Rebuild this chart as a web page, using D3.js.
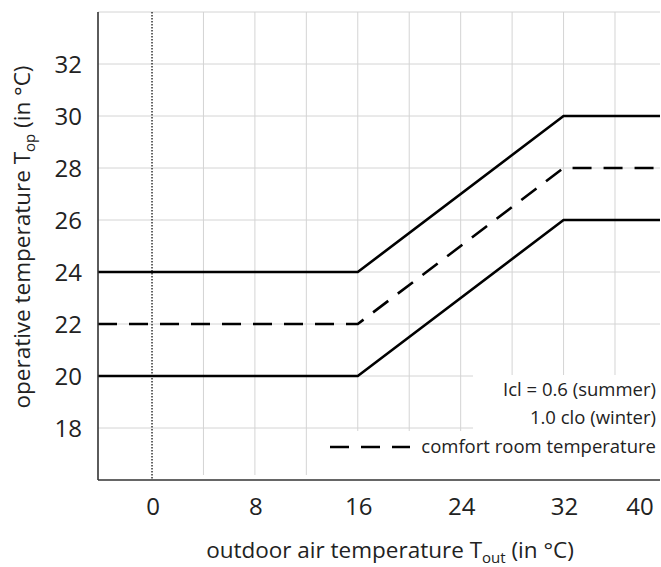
<!DOCTYPE html>
<html>
<head>
<meta charset="utf-8">
<script src="https://cdn.jsdelivr.net/npm/d3@7"></script>
<style>
  body { margin: 0; background: #fff; }
  text { font-family: "Open Sans", sans-serif; fill: #222; }
</style>
</head>
<body>
<svg id="chart" width="661" height="567"></svg>
<script>
// outdoor temperature breakpoints and operative temperature bands
var tOut = [-4.2, 16, 32, 40];
var upper = [24, 24, 30, 30];
var comfort = [22, 22, 28, 28];
var lower = [20, 20, 26, 26];

var xTicks = [0, 8, 16, 24, 32, 40];
var yTicks = [18, 20, 22, 24, 26, 28, 30, 32];
var xGrid = [4, 8, 12, 16, 20, 24, 28, 32, 36];
var yGrid = [18, 20, 22, 24, 26, 28, 30, 32, 34];

var margin = {top: 12, left: 98, right: 1, bottom: 87};
var W = 661, H = 567;

var svg = d3.select("#chart");

var x = d3.scaleLinear().domain([-4.2, 39.5]).range([margin.left, W - margin.right]);
var y = d3.scaleLinear().domain([16, 34]).range([H - margin.bottom, margin.top]);

svg.append("clipPath").attr("id", "clip")
  .append("rect")
    .attr("x", x.range()[0]).attr("y", 0)
    .attr("width", x.range()[1] - x.range()[0]).attr("height", y.range()[0]);

// grid
svg.append("g")
  .selectAll("line")
  .data(xGrid)
  .join("line")
    .attr("x1", d => x(d)).attr("x2", d => x(d))
    .attr("y1", y(34)).attr("y2", y(16) - 5)
    .attr("stroke", "#d4d4d4").attr("stroke-width", 1);

svg.append("g")
  .selectAll("line")
  .data(yGrid)
  .join("line")
    .attr("x1", x.range()[0]).attr("x2", x.range()[1])
    .attr("y1", d => y(d)).attr("y2", d => y(d))
    .attr("stroke", "#d4d4d4").attr("stroke-width", 1);

// dotted zero line
svg.append("line")
  .attr("x1", x(0)).attr("x2", x(0))
  .attr("y1", y(34)).attr("y2", y(16))
  .attr("stroke", "#000").attr("stroke-width", 1.2)
  .attr("stroke-dasharray", "1.5,1.5");

// white legend backgrounds covering grid
svg.append("rect").attr("x", 473).attr("y", 375).attr("width", 188).attr("height", 56).attr("fill", "#fff");
svg.append("rect").attr("x", 318).attr("y", 431).attr("width", 343).attr("height", 45).attr("fill", "#fff");

// band lines
var line = d3.line()
  .x((d, i) => x(tOut[i]))
  .y(d => y(d));

var g = svg.append("g").attr("clip-path", "url(#clip)");
[upper, lower].forEach(s => {
  g.append("path")
    .datum(s)
    .attr("d", line)
    .attr("fill", "none")
    .attr("stroke", "#000")
    .attr("stroke-width", 2.6);
});
g.append("path")
  .datum(comfort)
  .attr("d", line)
  .attr("fill", "none")
  .attr("stroke", "#000")
  .attr("stroke-width", 2.6)
  .attr("stroke-dasharray", "19,12");

// axes
svg.append("line")
  .attr("x1", x.range()[0]).attr("x2", x.range()[0])
  .attr("y1", y(34)).attr("y2", y(16))
  .attr("stroke", "#333").attr("stroke-width", 1.6);
svg.append("line")
  .attr("x1", x.range()[0]).attr("x2", x.range()[1])
  .attr("y1", y(16)).attr("y2", y(16))
  .attr("stroke", "#333").attr("stroke-width", 1.6);

svg.append("g")
  .selectAll("text")
  .data(yTicks)
  .join("text")
    .attr("x", 82)
    .attr("y", d => y(d))
    .attr("dy", "0.36em")
    .attr("text-anchor", "end")
    .style("font-size", "24px")
    .text(d => d);

svg.append("g")
  .selectAll("text")
  .data(xTicks)
  .join("text")
    .attr("x", d => Math.min(x(d) + 1, x.range()[1] - 20))
    .attr("y", 515)
    .attr("text-anchor", "middle")
    .style("font-size", "24px")
    .text(d => d);

// axis titles
var xt = svg.append("text")
  .attr("x", 390).attr("y", 558)
  .attr("text-anchor", "middle")
  .style("font-size", "22.5px");
xt.append("tspan").text("outdoor air temperature T");
xt.append("tspan").attr("dy", 5).style("font-size", "15px").text("out");
xt.append("tspan").attr("dy", -5).text(" (in °C)");

var yt = svg.append("text")
  .attr("transform", "translate(30,237) rotate(-90)")
  .attr("text-anchor", "middle")
  .style("font-size", "22.5px");
yt.append("tspan").text("operative temperature T");
yt.append("tspan").attr("dy", 5).style("font-size", "15px").text("op");
yt.append("tspan").attr("dy", -5).text(" (in °C)");

// legend
svg.append("text").attr("x", 656).attr("y", 396).attr("text-anchor", "end")
  .style("font-size", "18.5px").text("Icl = 0.6 (summer)");
svg.append("text").attr("x", 656).attr("y", 424).attr("text-anchor", "end")
  .style("font-size", "18.5px").text("1.0 clo (winter)");

svg.append("line")
  .attr("x1", 330).attr("x2", 410)
  .attr("y1", 447).attr("y2", 447)
  .attr("stroke", "#000").attr("stroke-width", 2.6)
  .attr("stroke-dasharray", "19,12");
svg.append("text").attr("x", 656).attr("y", 453).attr("text-anchor", "end")
  .style("font-size", "18.5px").text("comfort room temperature");
</script>
</body>
</html>
